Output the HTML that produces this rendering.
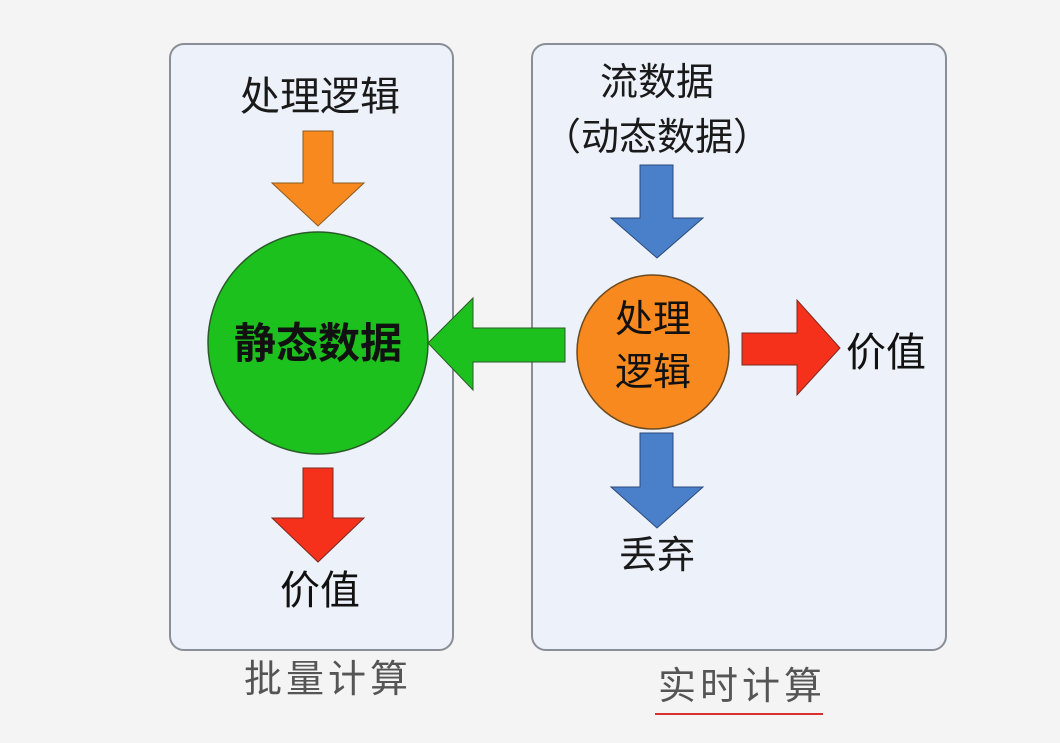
<!DOCTYPE html>
<html><head><meta charset="utf-8"><style>
body{margin:0;background:#f4f4f4;}
svg text{font-family:"Liberation Sans","Noto Sans CJK SC",sans-serif;}
</style></head><body>
<svg width="1060" height="738" viewBox="0 0 1060 738" xmlns="http://www.w3.org/2000/svg">
<rect width="1060" height="738" fill="#f4f4f4"/>
<rect x="170" y="44" width="283" height="606" rx="14" fill="#edf1f9" stroke="#8a8e96" stroke-width="2"/>
<rect x="532" y="44" width="414" height="606" rx="14" fill="#edf1f9" stroke="#8a8e96" stroke-width="2"/>

<text x="320" y="110" font-size="40" text-anchor="middle" fill="#1a1a1a">处理逻辑</text>
<polygon points="303,131 333,131 333,183 364,183 318,226 272,183 303,183" fill="#f7891f" stroke="#8a5a20" stroke-width="1"/>
<ellipse cx="318" cy="343" rx="110" ry="111" fill="#1dc11d" stroke="#2a5a2a" stroke-width="1.5"/>
<text x="318" y="358" font-size="42" font-weight="bold" text-anchor="middle" fill="#111">静态数据</text>
<polygon points="303,468 333,468 333,518 364,518 318,562 272,518 303,518" fill="#f5311c" stroke="#7a2a20" stroke-width="1"/>
<text x="320" y="604" font-size="40" text-anchor="middle" fill="#111">价值</text>

<polygon points="428,343 473,298 473,328 565,328 565,362 473,362 473,390" fill="#1dc11d" stroke="#2a5a2a" stroke-width="1"/>

<text x="657" y="95" font-size="38" text-anchor="middle" fill="#1a1a1a">流数据</text>
<text x="657" y="150" font-size="38" text-anchor="middle" fill="#1a1a1a">（动态数据）</text>
<polygon points="640,165 673,165 673,218 703,218 657,258 611,218 640,218" fill="#4a7fc9" stroke="#2a4a7a" stroke-width="1"/>
<ellipse cx="653" cy="352" rx="76" ry="77" fill="#f7891f" stroke="#6a4a20" stroke-width="1.5"/>
<text x="653" y="332" font-size="38" text-anchor="middle" fill="#111">处理</text>
<text x="653" y="385" font-size="38" text-anchor="middle" fill="#111">逻辑</text>
<polygon points="742,333 797,333 797,300 840,348 797,395 797,365 742,365" fill="#f5311c" stroke="#7a2a20" stroke-width="1"/>
<text x="886" y="366" font-size="40" text-anchor="middle" fill="#111">价值</text>
<polygon points="640,433 673,433 673,487 703,487 657,528 611,487 640,487" fill="#4a7fc9" stroke="#2a4a7a" stroke-width="1"/>
<text x="657" y="568" font-size="38" text-anchor="middle" fill="#1a1a1a">丢弃</text>

<text x="328" y="692" font-size="38" text-anchor="middle" fill="#555" letter-spacing="4">批量计算</text>
<text x="742" y="699" font-size="38" text-anchor="middle" fill="#555" letter-spacing="4">实时计算</text>
<line x1="655" y1="714" x2="823" y2="714" stroke="#d83030" stroke-width="2"/>
</svg>
</body></html>
